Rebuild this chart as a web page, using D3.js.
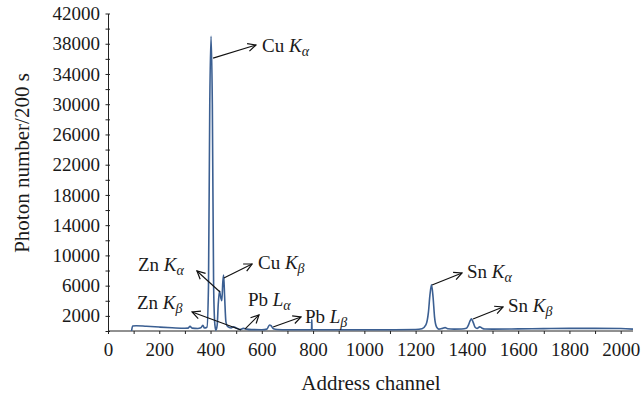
<!DOCTYPE html>
<html><head><meta charset="utf-8">
<script src="https://cdn.jsdelivr.net/npm/d3@7"></script>
<style>
body{margin:0;background:#fff;}
svg{display:block;}
text{font-family:"Liberation Serif","DejaVu Serif",serif;fill:#1a1a1a;}
</style></head>
<body>
<svg id="chart" width="642" height="396"></svg>
<script>
// ---- data ----
const channels = [92,96,110,150,200,250,300,312,320,328,350,362,370,376,386,392,397,402,407,412,417,421,426,430,435,440,444,448,451,455,460,466,480,490,500,515,528,540,560,600,620,630,636,645,660,700,790,794,795,796,800,900,1000,1100,1200,1225,1240,1250,1256,1262,1268,1274,1282,1290,1305,1315,1325,1350,1380,1398,1405,1412,1418,1425,1432,1440,1450,1458,1470,1500,1600,1700,1800,1900,2000,2048];
const counts   = [0,650,700,620,520,430,360,380,620,380,330,420,760,400,500,6000,30000,39000,30000,6000,800,100,800,3500,5300,4400,4000,6500,7400,4500,1200,600,400,550,400,200,350,250,180,170,250,800,700,300,200,170,170,170,1500,170,170,160,160,170,200,300,800,2500,4800,6100,4500,1800,500,250,350,450,300,250,260,350,700,1300,1600,1100,500,350,550,400,260,250,280,320,350,350,330,250];

const xTicks = [0,100,200,300,400,500,600,700,800,900,1000,1100,1200,1300,1400,1500,1600,1700,1800,1900,2000];
const xTickLabels = [0,200,400,600,800,1000,1200,1400,1600,1800,2000];
const yTicks = [0,2000,4000,6000,8000,10000,12000,14000,16000,18000,20000,22000,24000,26000,28000,30000,32000,34000,36000,38000,40000,42000];
const yTickLabels = [2000,6000,10000,14000,18000,22000,26000,30000,34000,38000,42000];

// annotations: element, italic symbol, subscript, arrow start/end and text anchor in data units
const annElem  = ["Cu","Zn","Cu","Zn","Pb","Pb","Sn","Sn"];
const annSym   = ["K","K","K","K","L","L","K","K"];
const annSub   = ["α","α","β","β","α","β","α","β"];
const annFrom  = [[410,36100],[437,5160],[452,7000],[519,130],[534,260],[644,530],[1264,6080],[1424,1590]];
const annTo    = [[577,37830],[347,7940],[562,8860],[328,2510],[589,2120],[753,1850],[1381,7670],[1541,3175]];
const annText  = [[601,36900],[117,7900],[585,8150],[113,2950],[546,3350],[768,1100],[1400,6950],[1560,2550]];

// ---- chart ----
const svg = d3.select("#chart");
const x = d3.scaleLinear().domain([0,2048]).range([108,633]);
const y = d3.scaleLinear().domain([0,42000]).range([331,13.5]);
const axisColor = "#222";

// x axis
const gx = svg.append("g").attr("transform","translate(0,331)")
  .call(d3.axisBottom(x).tickValues(xTicks).tickSizeInner(3).tickSizeOuter(0)
    .tickFormat(d => xTickLabels.includes(d) ? d : ""));
gx.select(".domain").attr("stroke",axisColor).attr("d","M"+x.range()[0]+",0H"+x.range()[1]);
gx.selectAll(".tick line").attr("stroke",axisColor);
gx.selectAll(".tick text").attr("font-size","19px").attr("font-family","Liberation Serif").attr("fill","#1a1a1a").attr("dy","1.0em");

// y axis
const gy = svg.append("g").attr("transform","translate(108,0)")
  .call(d3.axisLeft(y).tickValues(yTicks).tickSizeInner(2).tickSizeOuter(0)
    .tickFormat(d => yTickLabels.includes(d) ? d : ""));
gy.select(".domain").attr("stroke",axisColor);
gy.selectAll(".tick line").attr("stroke",axisColor).attr("x1",2).attr("x2",-2.5);
gy.selectAll(".tick text").attr("font-size","19px").attr("font-family","Liberation Serif").attr("fill","#1a1a1a").attr("x",-8);

// spectrum
const pts = channels.map((c,i)=>[c,counts[i]]);
svg.append("path").datum(pts)
  .attr("fill","none").attr("stroke","#3b5f92").attr("stroke-width",1.6).attr("stroke-linejoin","round")
  .attr("d", d3.line().x(d=>x(d[0])).y(d=>y(d[1])).curve(d3.curveMonotoneX));

// axis titles
svg.append("text").attr("x",371).attr("y",390).attr("text-anchor","middle").attr("font-size","21px").text("Address channel");
svg.append("text").attr("transform","translate(29,163) rotate(-90)").attr("text-anchor","middle").attr("font-size","21px").text("Photon number/200 s");

// annotations
svg.append("defs").append("marker").attr("id","arr").attr("viewBox","0 0 10 10").attr("refX",9).attr("refY",5)
  .attr("markerWidth",10).attr("markerHeight",10).attr("markerUnits","userSpaceOnUse").attr("orient","auto")
  .append("path").attr("d","M1,1L9,5L1,9").attr("fill","none").attr("stroke","#111").attr("stroke-width",1.2);

annElem.forEach((el,i)=>{
  svg.append("line")
    .attr("x1",x(annFrom[i][0])).attr("y1",y(annFrom[i][1]))
    .attr("x2",x(annTo[i][0])).attr("y2",y(annTo[i][1]))
    .attr("stroke","#111").attr("stroke-width",1.1).attr("marker-end","url(#arr)");
  const t = svg.append("text").attr("x",x(annText[i][0])).attr("y",y(annText[i][1])).attr("font-size","19px");
  t.append("tspan").text(el+" ");
  t.append("tspan").attr("font-style","italic").text(annSym[i]);
  t.append("tspan").attr("font-style","italic").attr("font-size","14px").attr("dy","4").text(annSub[i]);
});
</script>
</body></html>
